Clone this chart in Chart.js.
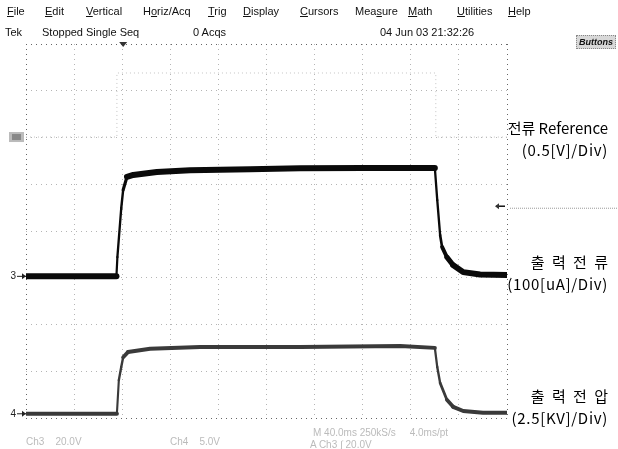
<!DOCTYPE html>
<html>
<head>
<meta charset="utf-8">
<script src="https://cdn.jsdelivr.net/npm/chart.js@4.4.1/dist/chart.umd.min.js"></script>
<style>
body { margin: 0; background: #fff; width: 618px; height: 449px; overflow: hidden; position: relative; font-family: "Liberation Sans", Arial, sans-serif; }
#scope { position: absolute; left: 0; top: 0; }
.t { position: absolute; white-space: nowrap; line-height: 1; }
.menu { top: 6px; font-size: 11px; color: #111; }
.stat { top: 27px; font-size: 11px; color: #111; }
.lbl { right: 10px; font-family: "Noto Sans CJK KR", "Noto Sans", sans-serif; font-size: 15px; color: #000; letter-spacing: 0.7px; }
.kr { letter-spacing: 2px; right: 8px; }
.foot { font-size: 10px; color: #bbb; }
#btn { left: 576px; top: 35px; width: 38px; height: 12px; font-size: 9px; font-style: italic; font-weight: bold; text-align: center; line-height: 12px; background: #d8d8d8; border: 1px dotted #888; color: #111; }
</style>
</head>
<body>
<canvas id="scope" width="618" height="449"></canvas>

<div class="t menu" style="left:7px"><u>F</u>ile</div>
<div class="t menu" style="left:45px"><u>E</u>dit</div>
<div class="t menu" style="left:86px"><u>V</u>ertical</div>
<div class="t menu" style="left:143px">H<u>o</u>riz/Acq</div>
<div class="t menu" style="left:208px"><u>T</u>rig</div>
<div class="t menu" style="left:243px"><u>D</u>isplay</div>
<div class="t menu" style="left:300px"><u>C</u>ursors</div>
<div class="t menu" style="left:355px">Mea<u>s</u>ure</div>
<div class="t menu" style="left:408px"><u>M</u>ath</div>
<div class="t menu" style="left:457px"><u>U</u>tilities</div>
<div class="t menu" style="left:508px"><u>H</u>elp</div>

<div class="t stat" style="left:5px">Tek</div>
<div class="t stat" style="left:42px">Stopped</div>
<div class="t stat" style="left:86px">Single Seq</div>
<div class="t stat" style="left:193px">0 Acqs</div>
<div class="t stat" style="left:380px">04 Jun 03 21:32:26</div>
<div class="t" id="btn">Buttons</div>

<div class="t lbl" style="top:120px; letter-spacing:0">전류 Reference</div>
<div class="t lbl" style="top:142px">(0.5[V]/Div)</div>
<div class="t lbl kr" style="top:254px">출 력 전 류</div>
<div class="t lbl" style="top:276px">(100[uA]/Div)</div>
<div class="t lbl kr" style="top:388px">출 력 전 압</div>
<div class="t lbl" style="top:410px">(2.5[KV]/Div)</div>

<div class="t foot" style="left:26px; top:437px">Ch3&nbsp;&nbsp;&nbsp;&nbsp;20.0V</div>
<div class="t foot" style="left:170px; top:437px">Ch4&nbsp;&nbsp;&nbsp;&nbsp;5.0V</div>
<div class="t foot" style="left:313px; top:428px">M 40.0ms 250kS/s&nbsp;&nbsp;&nbsp;&nbsp;&nbsp;4.0ms/pt</div>
<div class="t foot" style="left:310px; top:440px">A Ch3 ∫ 20.0V</div>

<script>
// time in divisions (10 across), level in divisions (8 up, 0 = bottom of screen)
const ch3Time  = [0, 1.88, 1.90, 1.98, 2.02, 2.10, 2.23, 2.72, 3.41, 4.66, 5.70, 7.00, 8.50, 8.55, 8.61, 8.65, 8.75, 8.88, 9.09, 9.44, 10];
const ch3Level = [3.03, 3.03, 3.44, 4.49, 4.88, 5.16, 5.20, 5.26, 5.30, 5.32, 5.34, 5.35, 5.35, 4.66, 3.91, 3.66, 3.44, 3.27, 3.12, 3.07, 3.06];

const ch4Time  = [0, 1.89, 1.93, 1.98, 2.02, 2.12, 2.58, 3.62, 5.70, 7.78, 8.50, 8.55, 8.61, 8.75, 8.88, 9.09, 9.50, 10];
const ch4Level = [0.09, 0.09, 0.81, 1.09, 1.30, 1.41, 1.48, 1.52, 1.52, 1.54, 1.50, 1.09, 0.75, 0.39, 0.24, 0.15, 0.11, 0.11];

const refTime  = [0, 1.89, 1.89, 8.52, 8.52, 10];
const refLevel = [6.01, 6.01, 7.38, 7.38, 6.01, 6.01];

const ch3Ground = 3.03;
const ch4Ground = 0.09;
const refGround = 6.01;
const trigTime = 2.02;
const trigLevel = 4.53;

function pts(xs, ys) {
    return xs.map((x, i) => ({ x: x, y: ys[i] }));
}

// thin line on the steep edges, fat noisy band on the flat parts
function edgeWidth(fat) {
    return ctx => {
        const dx = Math.abs(ctx.p1.x - ctx.p0.x), dy = Math.abs(ctx.p1.y - ctx.p0.y);
        return 2 + (fat - 2) * Math.min(1, dx / (dy + 0.01));
    };
}

const markers = {
    id: 'markers',
    afterDraw(chart) {
        const c = chart.ctx, x = chart.scales.x, y = chart.scales.y;
        const left = chart.chartArea.left, top = chart.chartArea.top, right = chart.chartArea.right;
        c.save();
        c.fillStyle = '#222';
        c.strokeStyle = '#222';
        c.font = '10px "Liberation Sans", sans-serif';
        c.textBaseline = 'middle';
        c.textAlign = 'right';
        [[ch3Ground, '3'], [ch4Ground, '4']].forEach(m => {
            const py = y.getPixelForValue(m[0]);
            c.fillText(m[1], left - 10, py);
            c.beginPath(); c.moveTo(left - 9, py); c.lineTo(left, py); c.stroke();
            c.beginPath(); c.moveTo(left, py); c.lineTo(left - 4, py - 3); c.lineTo(left - 4, py + 3); c.fill();
        });
        // reference marker
        const ry = y.getPixelForValue(refGround);
        c.fillStyle = '#bbb';
        c.fillRect(left - 17, ry - 5, 15, 10);
        c.fillStyle = '#888';
        c.fillRect(left - 14, ry - 3, 9, 6);
        // trigger position
        const tx = x.getPixelForValue(trigTime);
        c.fillStyle = '#333';
        c.beginPath(); c.moveTo(tx - 4, top - 2); c.lineTo(tx + 4, top - 2); c.lineTo(tx, top + 3); c.fill();
        // trigger level
        const ty = y.getPixelForValue(trigLevel);
        c.strokeStyle = '#111';
        c.lineWidth = 1.5;
        c.beginPath(); c.moveTo(right - 11, ty); c.lineTo(right - 2, ty); c.stroke();
        c.beginPath(); c.moveTo(right - 12, ty); c.lineTo(right - 8, ty - 3); c.lineTo(right - 8, ty + 3); c.fill();
        c.strokeStyle = '#999';
        c.lineWidth = 1;
        c.setLineDash([1, 1]);
        c.beginPath(); c.moveTo(right + 3, ty + 2); c.lineTo(chart.width, ty + 2); c.stroke();
        c.restore();
    }
};

const scopeGrid = {
    display: true,
    drawTicks: false,
    lineWidth: 1,
    color: ctx => (ctx.tick && (ctx.tick.value === 0 || ctx.tick.value === ctx.scale.max)) ? '#666' : '#b5b5b5'
};

new Chart(document.getElementById('scope').getContext('2d'), {
    type: 'line',
    data: {
        datasets: [
            {
                label: 'Reference',
                data: pts(refTime, refLevel),
                borderColor: '#c4c4c4',
                borderWidth: 1,
                borderDash: [1, 3],
                pointRadius: 0
            },
            {
                label: 'Ch4',
                data: pts(ch4Time, ch4Level),
                borderColor: '#3a3a3a',
                borderWidth: 3.5,
                borderJoinStyle: 'round',
                borderCapStyle: 'round',
                pointRadius: 0,
                segment: { borderWidth: edgeWidth(4) }
            },
            {
                label: 'Ch3',
                data: pts(ch3Time, ch3Level),
                borderColor: '#0a0a0a',
                borderWidth: 6,
                borderJoinStyle: 'round',
                borderCapStyle: 'round',
                pointRadius: 0,
                segment: { borderWidth: edgeWidth(6) }
            }
        ]
    },
    options: {
        responsive: false,
        animation: false,
        devicePixelRatio: 1,
        layout: { padding: { left: 26, top: 44, right: 111, bottom: 31 } },
        scales: {
            x: {
                type: 'linear', min: 0, max: 10,
                ticks: { display: false, stepSize: 1 },
                grid: scopeGrid,
                border: { display: false, dash: [1, 4] }
            },
            y: {
                type: 'linear', min: 0, max: 8,
                ticks: { display: false, stepSize: 1 },
                grid: scopeGrid,
                border: { display: false, dash: [1, 4] }
            }
        },
        plugins: {
            legend: { display: false },
            tooltip: { enabled: false }
        }
    },
    plugins: [markers]
});
</script>
</body>
</html>
